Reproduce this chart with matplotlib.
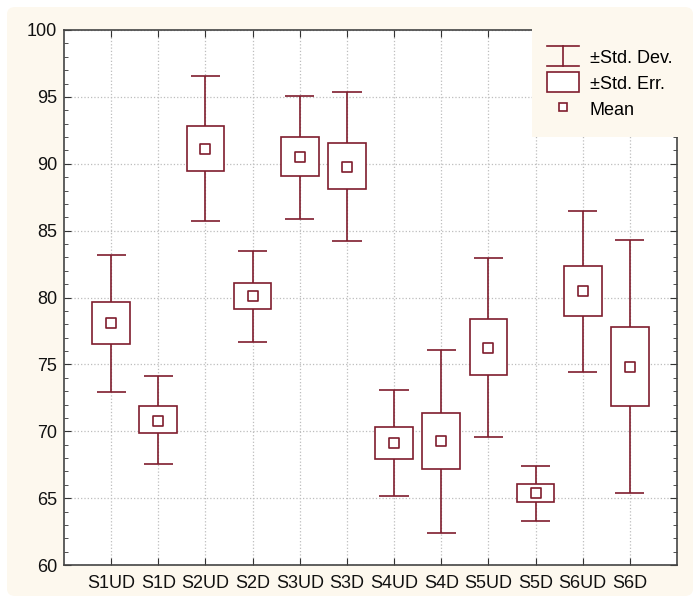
import matplotlib
matplotlib.use('Agg')
import matplotlib.pyplot as plt
from matplotlib.patches import Rectangle, FancyBboxPatch
from matplotlib.lines import Line2D
from matplotlib.legend_handler import HandlerBase
from matplotlib.ticker import MultipleLocator

groups = ['S1UD', 'S1D', 'S2UD', 'S2D', 'S3UD', 'S3D',
          'S4UD', 'S4D', 'S5UD', 'S5D', 'S6UD', 'S6D']
means = [78.07, 70.79, 91.10, 80.10, 90.50, 89.78,
         69.12, 69.24, 76.22, 65.38, 80.49, 74.83]
se_hi = [79.66, 71.91, 92.82, 81.11, 91.98, 91.53,
         70.32, 71.39, 78.37, 66.03, 82.33, 77.79]
se_lo = [76.52, 69.89, 89.43, 79.12, 89.08, 88.09,
         67.95, 67.15, 74.21, 64.71, 78.62, 71.89]
sd_hi = [83.18, 74.13, 96.56, 83.50, 95.04, 95.34,
         73.06, 76.07, 82.93, 67.40, 86.49, 84.30]
sd_lo = [72.91, 67.53, 85.70, 76.65, 85.85, 84.22,
         65.14, 62.42, 69.57, 63.29, 74.43, 65.38]

col = '#7f1d2d'
cream = '#fdf8ee'
W, H = 693, 596
plt.rcParams['font.family'] = ['Liberation Sans', 'DejaVu Sans']

fig = plt.figure(figsize=(6.93, 5.96), dpi=100, facecolor='white')
fig.patches.append(FancyBboxPatch((7 / W, 0), 1 - 7 / W, 1 - 7 / H,
                                  boxstyle='round,pad=0,rounding_size=0.012',
                                  transform=fig.transFigure, facecolor=cream,
                                  edgecolor='none', zorder=-10))
ax = fig.add_axes([64 / W, 31 / H, 613 / W, 535 / H])
ax.set_facecolor('white')

x = list(range(1, len(groups) + 1))
ax.vlines(x, sd_lo, sd_hi, color=col, lw=1.2, zorder=2)
ax.hlines(sd_lo, [i - 0.31 for i in x], [i + 0.31 for i in x], color=col, lw=1.2, zorder=2)
ax.hlines(sd_hi, [i - 0.31 for i in x], [i + 0.31 for i in x], color=col, lw=1.2, zorder=2)
ax.bar(x, [h - l for h, l in zip(se_hi, se_lo)], bottom=se_lo, width=0.8,
       facecolor='white', edgecolor=col, lw=1.2, zorder=3)
ax.scatter(x, means, marker='s', s=50, facecolor='white', edgecolor=col,
           lw=1.2, zorder=4)

ax.set_xlim(0, 13)
ax.set_ylim(60, 100)
ax.set_xticks(x)
ax.set_xticklabels(groups)
ax.yaxis.set_major_locator(MultipleLocator(5))
ax.yaxis.set_minor_locator(MultipleLocator(1))
ax.tick_params(axis='both', which='both', direction='in', top=True, right=True,
               labelsize=13, colors='#333333', labelcolor='#111111')
ax.tick_params(axis='x', pad=7, length=5)
ax.tick_params(axis='y', which='major', length=5, pad=5)
ax.tick_params(axis='y', which='minor', length=3)
ax.grid(True, which='major', color='#bdbdbd', ls=':', lw=0.9)
ax.set_axisbelow(True)
for s in ax.spines.values():
    s.set_color('#444444')
    s.set_linewidth(1.2)

# cream panel behind the legend, covering the top right of the frame
fig.add_artist(Rectangle((532 / W, 1 - 137 / H), 150 / W, 115 / H,
                         transform=fig.transFigure, facecolor=cream,
                         edgecolor='none', zorder=5))


class SDHandler(HandlerBase):
    def create_artists(self, legend, orig, xd, yd, w, h, fs, trans):
        cx = xd + w / 2
        top = yd + h + 3
        bot = yd - 2
        return [Line2D([cx, cx], [bot, top], color=col, lw=1.2, transform=trans),
                Line2D([xd, xd + w], [top, top], color=col, lw=1.2, transform=trans),
                Line2D([xd, xd + w], [bot, bot], color=col, lw=1.2, transform=trans)]


class BoxHandler(HandlerBase):
    def create_artists(self, legend, orig, xd, yd, w, h, fs, trans):
        return [Rectangle((xd, yd - 2), w, h + 5, facecolor='white', edgecolor=col,
                          lw=1.2, transform=trans)]


class MeanHandler(HandlerBase):
    def create_artists(self, legend, orig, xd, yd, w, h, fs, trans):
        return [Line2D([xd + w / 2], [yd + h / 2 + 1], marker='s', ms=6, mfc='white',
                       mec=col, mew=1.2, ls='none', transform=trans)]


h1 = Line2D([], [])
h2 = Rectangle((0, 0), 1, 1)
h3 = Line2D([], [], marker='s')
leg = fig.legend([h1, h2, h3], ['±Std. Dev.', '±Std. Err.', 'Mean'],
                 handler_map={h1: SDHandler(), h2: BoxHandler(), h3: MeanHandler()},
                 loc='upper left', bbox_to_anchor=(547 / W, 1 - 50 / H),
                 frameon=False, fontsize=13, handlelength=1.78, handletextpad=0.6,
                 labelspacing=0.5, borderpad=0, borderaxespad=0)
leg.set_zorder(10)

fig.savefig('out.png', dpi=100, facecolor=fig.get_facecolor())
